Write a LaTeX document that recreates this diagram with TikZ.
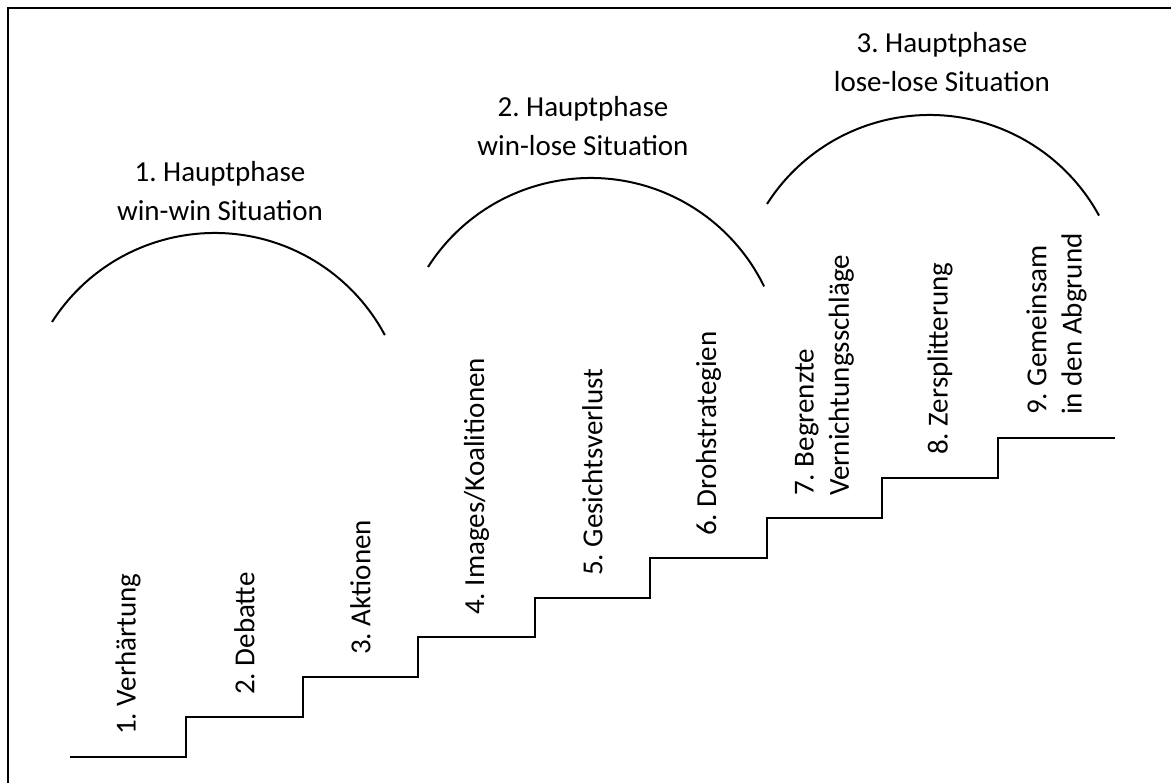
\documentclass[tikz,border=0pt]{standalone}
\usepackage{fontspec}
\setmainfont{Carlito}
\frenchspacing
\tikzset{
  frame/.style={line width=1.9pt},
  stair/.style={line width=1.5pt},
  bow/.style={line width=1.5pt},
  phase/.style={align=center, inner sep=0pt, font=\fontsize{21.75}{29.25}\selectfont},
  stage/.style={rotate=90, anchor=west, inner sep=0pt, align=left, font=\fontsize{21.75}{26.5}\selectfont},
}

\begin{document}
\begin{tikzpicture}[x=0.75pt, y=0.75pt]
	%%%%% FRAME %%%%%
	\useasboundingbox (0, 0) rectangle (1171, 783);
	\draw[frame] (8, 0) -- (8, 775) -- (1171, 775);
	
	%%%%% STAIRS %%%%%
	\draw[stair] (70, 26) -- (186, 26) -- (186, 66) -- (303, 66) -- (303, 106)
		-- (418, 106) -- (418, 146) -- (535, 146) -- (535, 185) -- (650, 185)
		-- (650, 225) -- (767, 225) -- (767, 265) -- (882, 265) -- (882, 305)
		-- (998, 305) -- (998, 345) -- (1115, 345);
	
	%%%%% STAGES %%%%%
	\node[stage] (s1) at (128, 48) {1. Verhärtung};
	\node[stage] (s2) at (244.5, 88) {2. Debatte};
	\node[stage] (s3) at (360.5, 128) {3. Aktionen};
	\node[stage] (s4) at (476.5, 168) {4. Images/Koalitionen};
	\node[stage] (s5) at (592.5, 207) {5. Gesichtsverlust};
	\node[stage] (s6) at (708.5, 247) {6. Drohstrategien};
	\node[stage] (s7) at (824.5, 287) {7. Begrenzte\\Vernichtungsschläge};
	\node[stage] (s8) at (940, 328) {8. Zersplitterung};
	\node[stage] (s9) at (1056.5, 368) {9. Gemeinsam\\in den Abgrund};
	
	%%%%% PHASES %%%%%
	\draw[bow] (52, 461) arc (147.4:28.1:193);
	\draw[bow] (428, 516) arc (147.4:26:193);
	\draw[bow] (767, 579) arc (147.4:28.6:193);
	
	\node[phase] (p1) at (220, 591.5) {1. Hauptphase\\win-win Situation};
	\node[phase] (p2) at (583, 657) {2. Hauptphase\\win-lose Situation};
	\node[phase] (p3) at (942, 720.5) {3. Hauptphase\\lose-lose Situation};
	
	%%%%% END %%%%%
\end{tikzpicture}
\end{document}
